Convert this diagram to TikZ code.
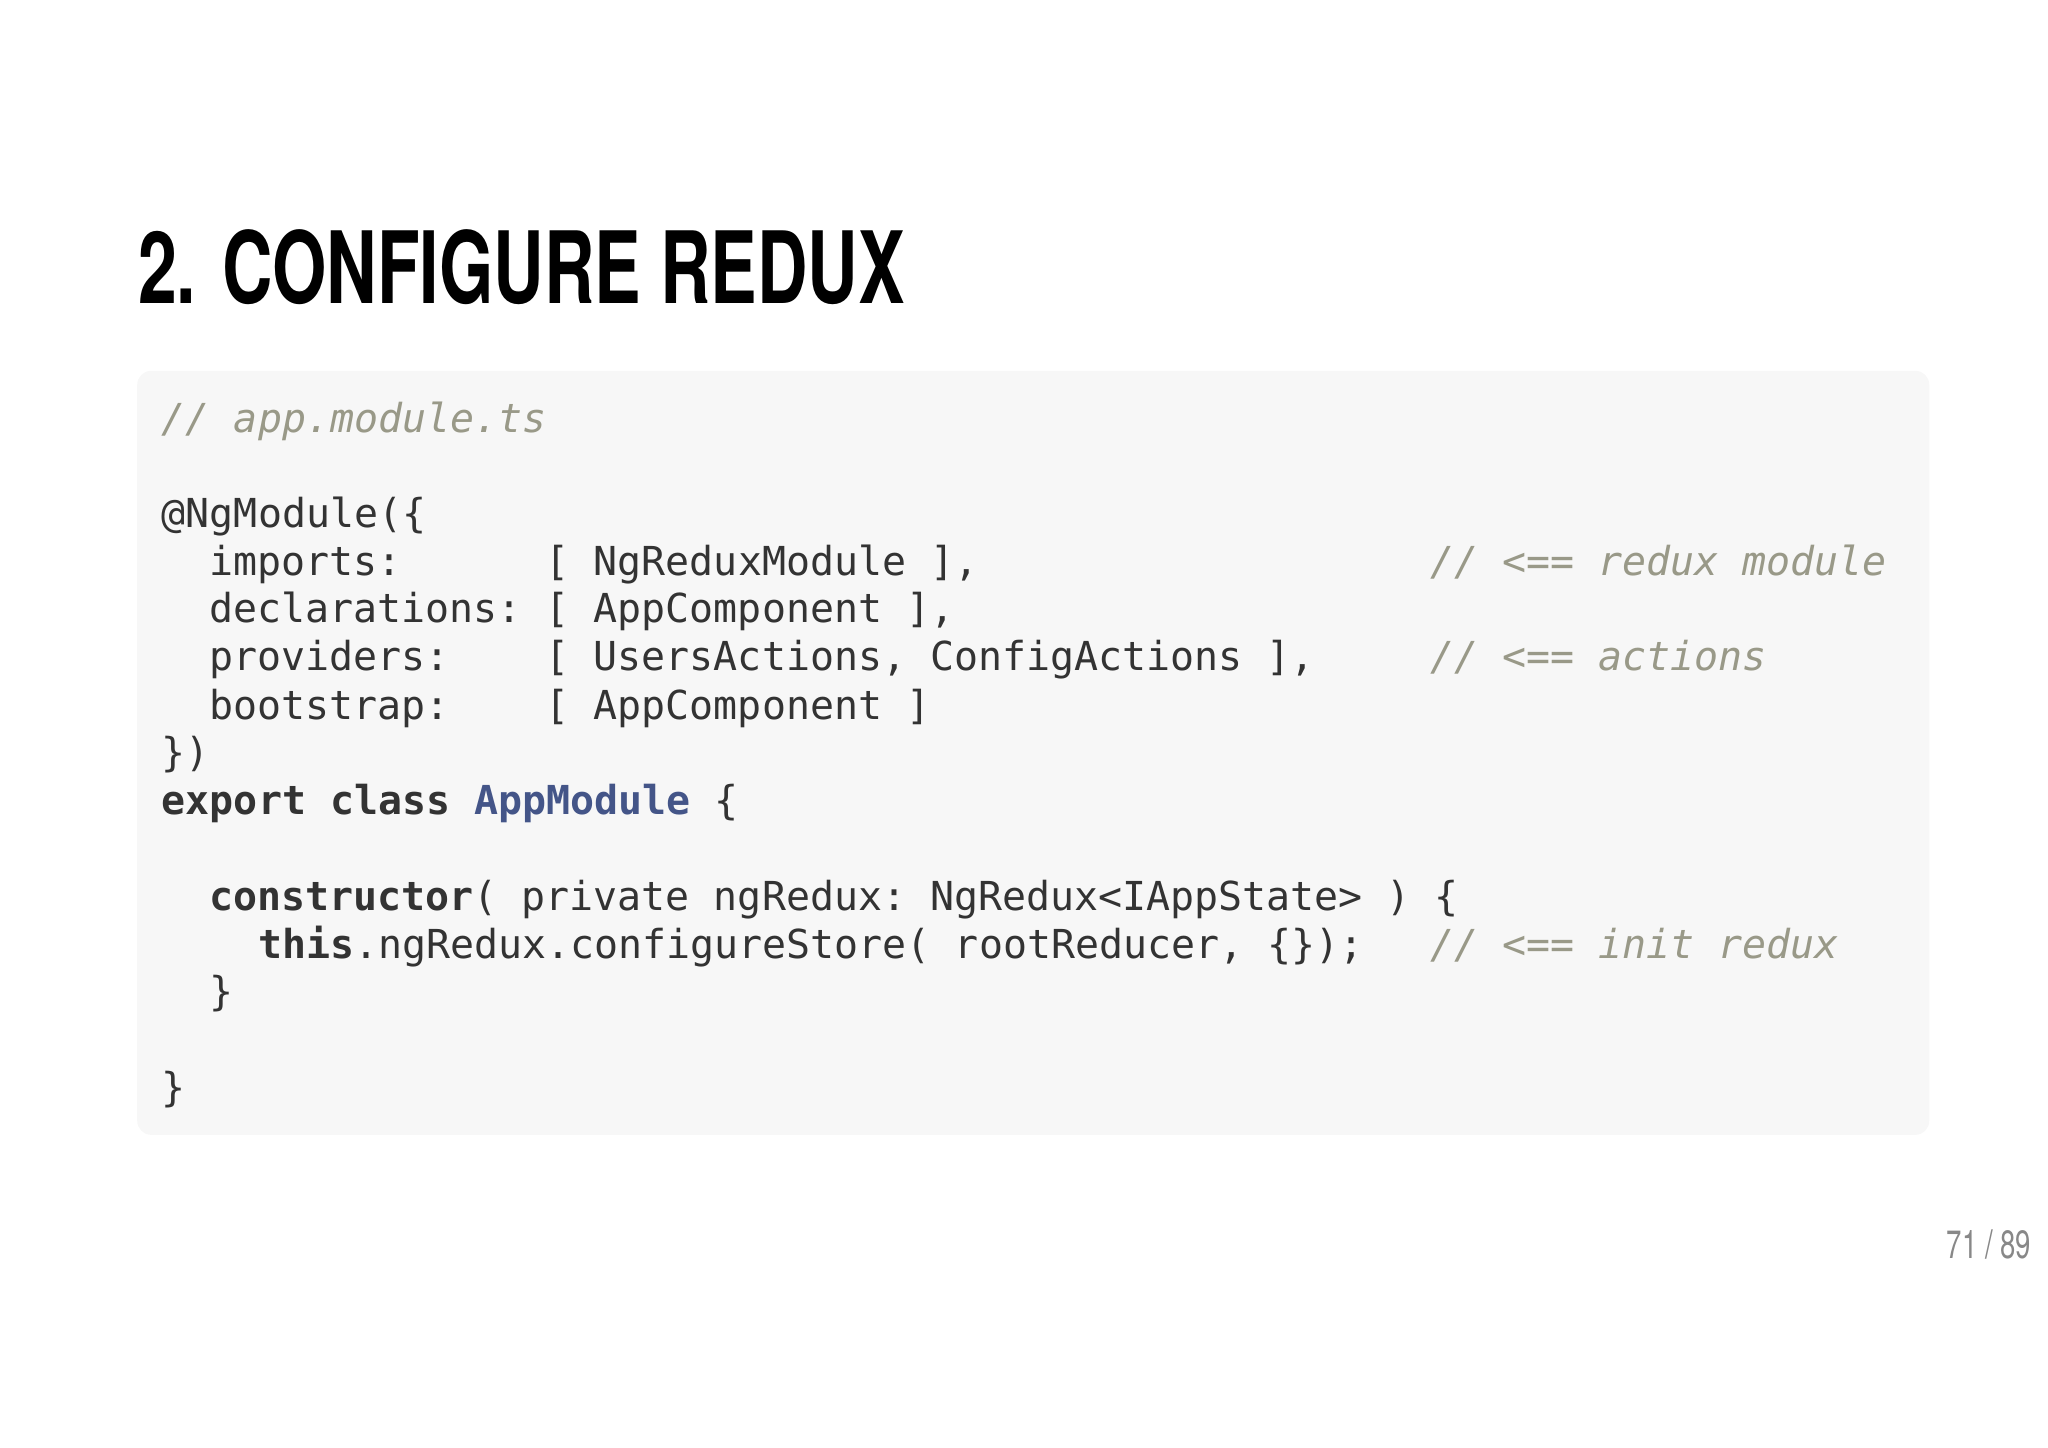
\documentclass[tikz,border=0pt]{standalone}
\usepackage{fontspec}
\setmainfont{TeX Gyre Heros}
\setmonofont{DejaVu Sans Mono}
\newfontfamily\narrowfont[FakeStretch=0.70]{TeX Gyre Heros}
\definecolor{codebg}{HTML}{F7F7F7}
\definecolor{codefg}{HTML}{333333}
\definecolor{cmtfg}{HTML}{999988}
\definecolor{typefg}{HTML}{445588}
\definecolor{pagefg}{HTML}{888888}
\newcommand{\cmt}[1]{{\color{cmtfg}\itshape #1}}
\newcommand{\kw}[1]{{\bfseries #1}}
\begin{document}
\begin{tikzpicture}[x=0.01cm,y=-0.01cm,
    codeline/.style={anchor=base west,inner sep=0pt,text=codefg,
      font=\ttfamily\fontsize{8.6}{10}\selectfont}]
    \useasboundingbox (0,0) rectangle (1552,1097);
    % Title
    \node[anchor=base west,inner sep=0pt,font=\narrowfont\bfseries\fontsize{21.5}{24}\selectfont] (title) at (104,230) {2. CONFIGURE REDUX};
    % Code box
    \fill[codebg,rounded corners=3pt] (104,281) rectangle (1462,860);
    \node[codeline] (l0) at (122,328) {\cmt{// app.module.ts}};
    \node[codeline] (l2) at (122,400) {@NgModule(\{};
    \node[codeline] (l3) at (158,436) {imports:\ \ \ \ \ \ [ NgReduxModule ],};
    \node[codeline] (l4) at (158,472) {declarations: [ AppComponent ],};
    \node[codeline] (l5) at (158,508) {providers:\ \ \ \ [ UsersActions, ConfigActions ],};
    \node[codeline] (l6) at (158,545) {bootstrap:\ \ \ \ [ AppComponent ]};
    \node[codeline] (l7) at (122,581) {\})};
    \node[codeline] (l8) at (122,617) {\kw{export class} {\bfseries\color{typefg}AppModule} \{};
    \node[codeline] (l10) at (158,690) {\kw{constructor}( private ngRedux: NgRedux<IAppState> ) \{};
    \node[codeline] (l11) at (195,726) {\kw{this}.ngRedux.configureStore( rootReducer, \{\});};
    \node[codeline] (l12) at (158,762) {\}};
    \node[codeline] (l14) at (122,835) {\}};
    % Comments
    \node[codeline] (c3) at (1083,436) {\cmt{// <== redux module}};
    \node[codeline] (c5) at (1083,508) {\cmt{// <== actions}};
    \node[codeline] (c11) at (1083,726) {\cmt{// <== init redux}};
    % Page number
    \node[anchor=base east,inner sep=0pt,text=pagefg,font=\narrowfont\fontsize{8.5}{10}\selectfont] (page) at (1540,954) {71 / 89};
\end{tikzpicture}
\end{document}
